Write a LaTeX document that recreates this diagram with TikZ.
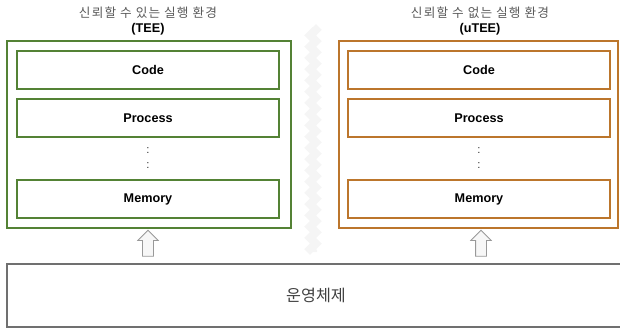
\documentclass[tikz,border=0pt]{standalone}
\usepackage{fontspec}
\setmainfont{Liberation Sans}
\newfontfamily\kofont{Noto Sans CJK KR}
\newfontfamily\kotitlefont[LetterSpace=9]{Noto Sans CJK KR}
\usetikzlibrary{positioning, shapes.arrows, decorations.pathmorphing}

\definecolor{teegreen}{RGB}{84,130,53}
\definecolor{uteeorange}{RGB}{188,118,44}
\definecolor{osgray}{RGB}{112,112,112}
\definecolor{titlegray}{RGB}{90,90,90}

\begin{document}
\begin{tikzpicture}[x=0.025cm, y=-0.025cm, node distance=1.2cm, on grid]
    \tikzstyle{outbox}=[draw, line width=1.3pt, minimum width=7.1cm, minimum height=4.675cm, inner sep=0pt]
    \tikzstyle{inbox}=[draw, line width=1.3pt, minimum width=6.55cm, minimum height=0.95cm, font=\fontsize{9}{11}\selectfont\bfseries]
    \tikzstyle{dots}=[align=center, font=\fontsize{8}{10}\selectfont, text=black!80]
    \tikzstyle{envtitle}=[align=center, font=\fontsize{9}{10}\selectfont]
    \tikzstyle{uparrow}=[single arrow, shape border rotate=90, draw=gray!80, fill=gray!6, line width=0.6pt,
        minimum height=0.65cm, inner sep=0.125cm, single arrow head extend=0.12cm]
    \tikzstyle{osbox}=[draw=osgray, line width=1.3pt, minimum width=15.45cm, minimum height=1.575cm,
        font=\kofont\fontsize{11.5}{13}\selectfont, text=black!75]
    \tikzstyle{sepline}=[draw=black!4, line width=6pt, decorate, decoration={zigzag, segment length=8pt, amplitude=2pt}]

    \useasboundingbox (0,0) rectangle (620,329);

    % separator between the two environments
    \draw[sepline] (313,27) -- (313,252);

    % trusted side
    \node[envtitle] (titleL) at (148,21) {{\kotitlefont\color{titlegray}신뢰할 수 있는 실행 환경}\\\textbf{(TEE)}};
    \node[outbox, draw=teegreen] (teeL) at (149,134.5) {};
    \node[inbox, draw=teegreen] (codeL) at (148,70) {Code};
    \node[inbox, draw=teegreen, below=of codeL] (procL) {Process};
    \node[dots, below=1.0cm of procL] (dotsL) {:\\:};
    \node[inbox, draw=teegreen, below=2.025cm of procL] (memL) {Memory};

    % untrusted side
    \node[envtitle] (titleR) at (480,21) {{\kotitlefont\color{titlegray}신뢰할 수 없는 실행 환경}\\\textbf{(uTEE)}};
    \node[outbox, draw=uteeorange, minimum width=6.975cm] (uteeR) at (478.5,134.5) {};
    \node[inbox, draw=uteeorange] (codeR) at (479,70) {Code};
    \node[inbox, draw=uteeorange, below=of codeR] (procR) {Process};
    \node[dots, below=1.0cm of procR] (dotsR) {:\\:};
    \node[inbox, draw=uteeorange, below=2.025cm of procR] (memR) {Memory};

    % operating system
    \node[osbox] (os) at (316,295.5) {운영체제};

    \node[uparrow] (arrL) at (148,246) {};
    \node[uparrow] (arrR) at (481,246) {};
\end{tikzpicture}
\end{document}
